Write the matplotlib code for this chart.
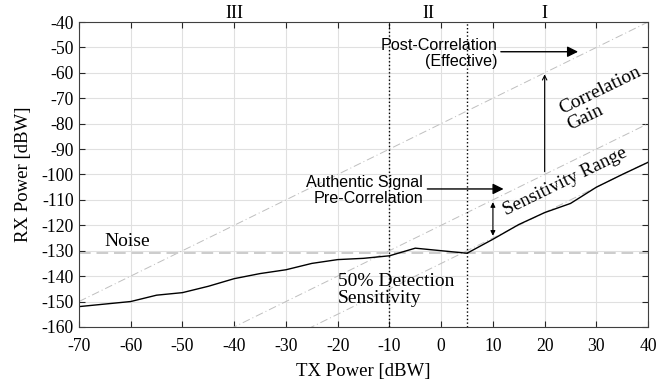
import numpy as np
import matplotlib.pyplot as plt

# measured 50% detection curve
tx = [-70, -60, -55, -50, -45, -40, -35, -30, -25, -20, -15, -10, -5, 5, 10, 15, 20, 25, 30, 35, 40]
rx = [-152, -150, -147.5, -146.5, -144, -141, -139, -137.5, -135, -133.5, -133, -132, -129,
      -131, -125.5, -119.7, -115, -111.4, -105, -100, -95.2]

noise = -131
offsets = [-80, -120, -135]        # post-corr, pre-corr, 50% sensitivity (y = x + c)
regions = ['III', 'II', 'I']
region_x = [-40, -2.5, 20]
bounds = [-10, 5]

plt.rcParams['font.family'] = ['Liberation Serif', 'DejaVu Serif']
plt.rcParams['axes.unicode_minus'] = False
sans = ['Liberation Sans', 'DejaVu Sans']

fig = plt.figure(figsize=(6.58, 3.86), dpi=100)
ax = fig.add_axes([0.120, 0.153, 0.865, 0.790])

xl = np.array([-70, 40])
for c in offsets:
    ax.plot(xl, xl + c, color='0.75', ls='-.', lw=0.7, dashes=(8, 3, 1, 3))
ax.axhline(noise, color='0.8', ls='--', lw=1.4, dashes=(6, 3))
for b in bounds:
    ax.axvline(b, color='k', ls=':', lw=1.0)
ax.plot(tx, rx, color='k', lw=1.0)

ax.set_xlim(-70, 40)
ax.set_ylim(-160, -40)
ax.set_xticks(np.arange(-70, 41, 10))
ax.set_yticks(np.arange(-160, -39, 10))
ax.grid(True, color='0.88', lw=0.8)
ax.set_axisbelow(True)
ax.tick_params(direction='in', top=True, right=True, labelsize=12.7, length=4, colors='0.15')
ax.tick_params(labelcolor='k')
ax.tick_params(axis='x', pad=8)
for s in ax.spines.values():
    s.set_color('0.25')
ax.set_xlabel('TX Power [dBW]', fontsize=13.5, labelpad=6)
ax.set_ylabel('RX Power [dBW]', fontsize=13.5, labelpad=7)

for r, x in zip(regions, region_x):
    ax.text(x, 1.0, r, transform=ax.get_xaxis_transform(), ha='center', va='bottom', fontsize=13)

ax.text(-65, -126.5, 'Noise', fontsize=14, va='center', ha='left')
ax.text(-20, -145.5, '50% Detection\nSensitivity', fontsize=14, va='center', ha='left', linespacing=1.05)

ax.text(10.8, -52.3, 'Post-Correlation\n(Effective)', family=sans, fontsize=11.6,
        ha='right', va='center', multialignment='right', linespacing=1.1)
ax.annotate('', xy=(27, -51.7), xytext=(11, -51.7),
            arrowprops=dict(arrowstyle='-|>', color='k', lw=1.0, mutation_scale=16))

ax.text(-3.5, -106.3, 'Authentic Signal\nPre-Correlation', family=sans, fontsize=11.6,
        ha='right', va='center', multialignment='right', linespacing=1.1)
ax.annotate('', xy=(12.6, -105.7), xytext=(-3.2, -105.7),
            arrowprops=dict(arrowstyle='-|>', color='k', lw=1.0, mutation_scale=16))

ax.annotate('', xy=(20, -59.5), xytext=(20, -100),
            arrowprops=dict(arrowstyle='->', color='k', lw=0.8, mutation_scale=8))
ax.annotate('', xy=(10, -109.8), xytext=(10, -125.2),
            arrowprops=dict(arrowstyle='<|-|>', color='k', lw=0.8, mutation_scale=7))

ax.text(31.5, -70, 'Correlation\nGain', fontsize=14, rotation=26, ha='center', va='center',
        rotation_mode='anchor', multialignment='left', linespacing=1.05)
ax.text(24, -102.8, 'Sensitivity Range', fontsize=13.8, rotation=26, ha='center', va='center',
        rotation_mode='anchor')

fig.savefig('out.png', dpi=100)
